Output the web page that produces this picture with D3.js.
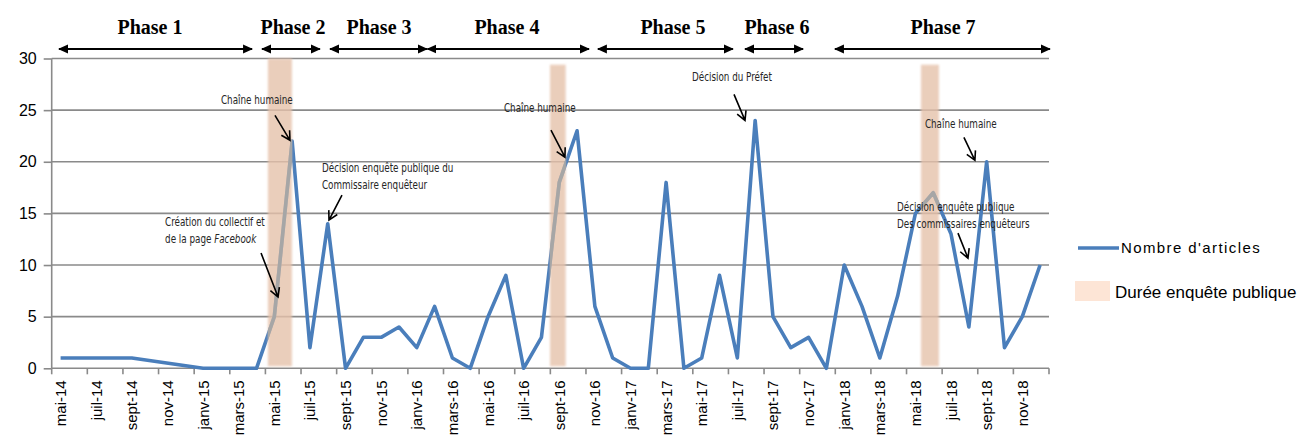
<!DOCTYPE html>
<html>
<head>
<meta charset="utf-8">
<script src="https://cdn.jsdelivr.net/npm/d3@7"></script>
<style>
  body { margin: 0; background: #fff; }
  svg { display: block; }
</style>
</head>
<body>
<div id="chart"></div>
<script>
// monthly article counts, mai-14 .. déc-18 (null = no point, line joins neighbours)
const months = [
  "mai-14","juin-14","juil-14","août-14","sept-14","oct-14","nov-14","déc-14",
  "janv-15","févr-15","mars-15","avr-15","mai-15","juin-15","juil-15","août-15","sept-15","oct-15","nov-15","déc-15",
  "janv-16","févr-16","mars-16","avr-16","mai-16","juin-16","juil-16","août-16","sept-16","oct-16","nov-16","déc-16",
  "janv-17","févr-17","mars-17","avr-17","mai-17","juin-17","juil-17","août-17","sept-17","oct-17","nov-17","déc-17",
  "janv-18","févr-18","mars-18","avr-18","mai-18","juin-18","juil-18","août-18","sept-18","oct-18","nov-18","déc-18"
];
const articles = [
  1, 1, 1, 1, 1, null, null, null,
  0, 0, 0, 0, 5, 22, 2, 14, 0, 3, 3, 4,
  2, 6, 1, 0, 5, 9, 0, 3, 18, 23, 6, 1,
  0, 0, 18, 0, 1, 9, 1, 24, 5, 2, 3, 0,
  10, 6, 1, 7, 15, 17, 13, 4, 20, 2, 5, 10
];
const yTicks = [0, 5, 10, 15, 20, 25, 30];

// public enquiry periods, in month units from mai-14
const enquetes = [[12.14, 13.49], [27.98, 28.86], [48.81, 49.82]];

// phases: [label, start, end, label centre] in month units
const phaseNames = ["Phase 1", "Phase 2", "Phase 3", "Phase 4", "Phase 5", "Phase 6", "Phase 7"];
const phaseStart = [0.41, 11.81, 15.63, 21.1, 30.67, 38.93, 43.98];
const phaseEnd = [11.25, 15.06, 21.07, 30.17, 38.25, 42.19, 56.05];
const phaseMid = [5.52, 13.55, 18.38, 25.56, 34.88, 40.72, 50.05];

// annotations: text lines + arrow tip (month units, value)
const annotTexts = [
  ["Chaîne humaine"],
  ["Création du collectif et", "de la page |Facebook"],
  ["Décision enquête publique du", "Commissaire enquêteur"],
  ["Chaîne humaine"],
  ["Décision du Préfet"],
  ["Chaîne humaine"],
  ["Décision enquête publique", "Des commissaires enquêteurs"]
];
const annotTip = [[13.38, 22.08], [12.71, 6.9], [15.57, 14.35], [28.82, 20.44], [38.93, 24.01], [51.84, 20.14], [51.45, 10.67]];

const W = 1303, H = 441;
const margin = {left: 51.7, right: 1049, top: 58.5, bottom: 368.3};

const svg = d3.select("#chart").append("svg").attr("width", W).attr("height", H);
const defs = svg.append("defs");
defs.append("filter").attr("id", "soft").attr("x", "-50%").attr("width", "200%")
  .append("feGaussianBlur").attr("stdDeviation", 1.3);
defs.append("marker").attr("id", "ah").attr("viewBox", "0 0 10 10")
  .attr("refX", 9).attr("refY", 5).attr("markerWidth", 10).attr("markerHeight", 10)
  .attr("markerUnits", "userSpaceOnUse").attr("orient", "auto-start-reverse")
  .append("path").attr("d", "M0,0.5L10,5L0,9.5Z").attr("fill", "#000");

const x = d3.scaleLinear().domain([0, months.length]).range([margin.left, margin.right]);
const y = d3.scaleLinear().domain([0, 30]).range([margin.bottom, margin.top]);

// grid lines
svg.append("g").selectAll("line").data(yTicks).enter().append("line")
  .attr("x1", margin.left).attr("x2", margin.right)
  .attr("y1", d => y(d)).attr("y2", d => y(d))
  .attr("stroke", "#8a8a8a").attr("stroke-width", 1.6);

// y axis
const yAxis = svg.append("g").attr("transform", `translate(${margin.left},0)`)
  .call(d3.axisLeft(y).tickValues(yTicks).tickSize(8).tickPadding(7));
yAxis.select(".domain").attr("stroke", "#8a8a8a").attr("stroke-width", 1.6).attr("d", `M0,${margin.top}V${margin.bottom}`);
yAxis.selectAll(".tick line").attr("stroke", "#8a8a8a").attr("stroke-width", 1.6);
yAxis.selectAll("text").attr("font-family", "Liberation Sans, Arial, sans-serif").attr("font-size", 16).attr("fill", "#000");

// x axis: ticks every 2 months, labels at centre of every second month
const tickPos = d3.range(0, months.length + 1, 2);
svg.append("g").selectAll("line").data(tickPos).enter().append("line")
  .attr("x1", d => x(d)).attr("x2", d => x(d))
  .attr("y1", margin.bottom).attr("y2", margin.bottom + 6)
  .attr("stroke", "#8a8a8a").attr("stroke-width", 1.6);
svg.append("g").selectAll("text").data(months.filter((m, i) => i % 2 === 0)).enter().append("text")
  .attr("transform", (d, i) => `translate(${x(i * 2 + 0.5) + 5.5},${margin.bottom + 12}) rotate(-90)`)
  .attr("text-anchor", "end")
  .attr("font-family", "Liberation Sans, Arial, sans-serif").attr("font-size", 15)
  .text(d => d);

// line
const pts = articles.map((v, i) => ({i: i, v: v})).filter(d => d.v !== null);
const line = d3.line().x(d => x(d.i + 0.5)).y(d => y(d.v));
svg.append("path").datum(pts).attr("d", line)
  .attr("fill", "none").attr("stroke", "#4a7ebb").attr("stroke-width", 3.6).attr("stroke-linejoin", "round");

// enquiry bands on top of the line, line shows grey through them
svg.append("g").selectAll("rect").data(enquetes).enter().append("rect")
  .attr("x", d => x(d[0])).attr("width", d => x(d[1]) - x(d[0]))
  .attr("y", (d, i) => i === 0 ? y(30) : y(29.4)).attr("height", (d, i) => (margin.bottom - 2) - (i === 0 ? y(30) : y(29.4)))
  .attr("fill", "#e6c2ab").attr("opacity", 0.8).attr("filter", "url(#soft)");
enquetes.forEach((d, k) => {
  defs.append("clipPath").attr("id", "clip" + k).append("rect")
    .attr("x", x(d[0])).attr("width", x(d[1]) - x(d[0])).attr("y", 0).attr("height", H);
  svg.append("path").datum(pts).attr("d", line).attr("clip-path", `url(#clip${k})`)
    .attr("fill", "none").attr("stroke", "#a6a6a6").attr("stroke-width", 3.6).attr("stroke-linejoin", "round");
});

// phases
const phases = phaseNames.map((n, i) => ({name: n, s: phaseStart[i], e: phaseEnd[i], m: phaseMid[i]}));
const ph = svg.append("g");
ph.selectAll("line").data(phases).enter().append("line")
  .attr("x1", d => x(d.s)).attr("x2", d => x(d.e)).attr("y1", 49).attr("y2", 49)
  .attr("stroke", "#000").attr("stroke-width", 2.2)
  .attr("marker-start", "url(#ah)").attr("marker-end", "url(#ah)");
ph.selectAll("text").data(phases).enter().append("text")
  .attr("x", d => x(d.m)).attr("y", 34)
  .attr("text-anchor", "middle")
  .attr("font-family", "Liberation Serif, Times New Roman, serif").attr("font-weight", "bold").attr("font-size", 20)
  .text(d => d.name);

// annotations
const annotLayout = [
  {tail: [-15, -25], text: [-69, -40], lh: 17},
  {tail: [-17, -44], text: [-113, -75], lh: 16.5},
  {tail: [13, -25], text: [-7, -52], lh: 17},
  {tail: [-14, -27], text: [-61, -49], lh: 17},
  {tail: [-11, -26], text: [-53, -43], lh: 17},
  {tail: [-11, -23], text: [-50, -36], lh: 17},
  {tail: [-10, -25], text: [-71, -51], lh: 16.6}
];
const ann = svg.append("g");
annotTexts.forEach((lines, k) => {
  const tx = x(annotTip[k][0]), ty = y(annotTip[k][1]);
  const L = annotLayout[k];
  const sx = tx + L.tail[0], sy = ty + L.tail[1];
  const ang = Math.atan2(ty - sy, tx - sx);
  const hl = 10, ha = 0.5;
  ann.append("path")
    .attr("d", `M${sx},${sy}L${tx},${ty}` +
      `M${tx - hl * Math.cos(ang - ha)},${ty - hl * Math.sin(ang - ha)}L${tx},${ty}` +
      `L${tx - hl * Math.cos(ang + ha)},${ty - hl * Math.sin(ang + ha)}`)
    .attr("fill", "none").attr("stroke", "#000").attr("stroke-width", 1.6);
  lines.forEach((ln, j) => {
    // narrow face squeezed horizontally, like the condensed font of the original
    const t = ann.append("text")
      .attr("transform", `translate(${tx + L.text[0]},${ty + L.text[1] + j * L.lh}) scale(0.85,1)`)
      .attr("dy", "0.35em")
      .attr("font-family", "Liberation Sans Narrow, DejaVu Sans Condensed, Arial Narrow, sans-serif")
      .attr("font-stretch", "condensed")
      .attr("font-size", 11.5).attr("fill", "#262626");
    const parts = ln.split("|");
    t.append("tspan").text(parts[0]);
    if (parts.length > 1) t.append("tspan").attr("font-style", "italic").text(parts[1]);
  });
});

// legend
const lg = svg.append("g");
lg.append("line").attr("x1", 1078).attr("x2", 1119).attr("y1", 248).attr("y2", 248)
  .attr("stroke", "#4a7ebb").attr("stroke-width", 3.6);
lg.append("text").attr("x", 1121).attr("y", 248).attr("dy", "0.35em")
  .attr("font-family", "Liberation Sans, Arial, sans-serif").attr("font-size", 15).attr("letter-spacing", 1.4)
  .text("Nombre d'articles");
lg.append("rect").attr("x", 1075).attr("y", 281).attr("width", 35).attr("height", 20).attr("fill", "#fde5d6");
lg.append("text").attr("x", 1115).attr("y", 292).attr("dy", "0.35em")
  .attr("font-family", "Liberation Sans, Arial, sans-serif").attr("font-size", 17)
  .text("Durée enquête publique");
</script>
</body>
</html>
